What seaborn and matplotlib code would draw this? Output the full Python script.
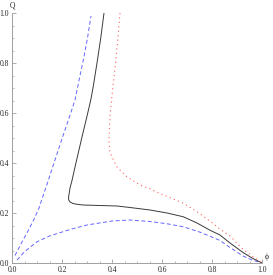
import pandas as pd
import numpy as np
import matplotlib
matplotlib.use("Agg")
import matplotlib.pyplot as plt
import seaborn as sns
from matplotlib.ticker import MultipleLocator

# curve values (phi, Q)
blue_up_x = [0.012, 0.04, 0.064, 0.088, 0.108, 0.14, 0.168, 0.201, 0.235, 0.252, 0.27, 0.287, 0.302, 0.316]
blue_up_y = [0.03, 0.084, 0.128, 0.175, 0.22, 0.315, 0.4, 0.5, 0.6, 0.652, 0.74, 0.82, 0.9, 0.988]

blue_lo_x = [0.02, 0.05, 0.1, 0.15, 0.239, 0.3, 0.4, 0.472, 0.552, 0.62, 0.685, 0.75, 0.792,
             0.832, 0.872, 0.924, 0.96, 1.0]
blue_lo_y = [0.012, 0.045, 0.085, 0.108, 0.136, 0.152, 0.168, 0.172, 0.166, 0.157, 0.145, 0.124, 0.107,
             0.09, 0.062, 0.028, 0.012, 0.0]

black_x = [0.368, 0.355, 0.34, 0.324, 0.315, 0.303, 0.279, 0.252, 0.24, 0.232, 0.229, 0.226, 0.227,
           0.232, 0.244, 0.259, 0.284, 0.35, 0.42, 0.472, 0.552, 0.62, 0.685, 0.74, 0.792,
           0.832, 0.872, 0.924, 0.96, 1.0]
black_y = [1.0, 0.9, 0.8, 0.7, 0.652, 0.6, 0.5, 0.384, 0.33, 0.3, 0.28, 0.262, 0.252,
           0.244, 0.238, 0.235, 0.232, 0.23, 0.228, 0.222, 0.212, 0.2, 0.185, 0.16, 0.131,
           0.112, 0.08, 0.042, 0.02, 0.0]

red_x = [0.432, 0.424, 0.414, 0.403, 0.393, 0.389, 0.388, 0.391, 0.399, 0.419, 0.459, 0.512,
         0.552, 0.585, 0.685, 0.74, 0.792, 0.832, 0.872, 0.924, 0.96, 1.0]
red_y = [1.0, 0.9, 0.8, 0.7, 0.6, 0.53, 0.48, 0.45, 0.425, 0.385, 0.345, 0.312,
         0.297, 0.281, 0.239, 0.205, 0.168, 0.135, 0.108, 0.055, 0.028, 0.0]

sns.set_style("ticks")
plt.rcParams['font.family'] = ['Liberation Serif', 'DejaVu Serif']

fig = plt.figure(figsize=(2.73, 2.75), dpi=100)
ax = fig.add_axes([12/273, 12/275, 250/273, 250/275])

blue = "#6464ff"
lw = 0.7
sns.lineplot(x=blue_up_x, y=blue_up_y, sort=False, estimator=None, ax=ax,
             color=blue, lw=lw, linestyle=(0, (4, 2.6)))
sns.lineplot(x=blue_lo_x, y=blue_lo_y, sort=False, estimator=None, ax=ax,
             color=blue, lw=lw, linestyle=(0, (4, 2.6)))
sns.lineplot(x=black_x, y=black_y, sort=False, estimator=None, ax=ax,
             color="#3a3a3a", lw=lw)
sns.lineplot(x=red_x, y=red_y, sort=False, estimator=None, ax=ax,
             color="#ff6060", lw=lw + 0.1, linestyle=(0, (1, 3)))

ax.set_xlim(0, 1)
ax.set_ylim(0, 1)
for s in ["top", "right"]:
    ax.spines[s].set_visible(False)
for s in ["left", "bottom"]:
    ax.spines[s].set_color("#a0a0a0")
    ax.spines[s].set_linewidth(0.7)
ax.xaxis.set_major_locator(MultipleLocator(0.2))
ax.yaxis.set_major_locator(MultipleLocator(0.2))
ax.xaxis.set_minor_locator(MultipleLocator(0.05))
ax.yaxis.set_minor_locator(MultipleLocator(0.05))
ax.xaxis.set_major_formatter(lambda v, p: f"{v:.1f}")
ax.yaxis.set_major_formatter(lambda v, p: f"{v:.1f}")
ax.tick_params(which="major", direction="in", length=3, width=0.6, color="#a0a0a0",
               labelsize=5.5)
ax.tick_params(axis="x", which="major", pad=2.2)
ax.tick_params(axis="y", which="major", pad=2.0)
ax.tick_params(which="minor", direction="in", length=1.6, width=0.5, color="#a0a0a0")
ax.set_xlabel("")
ax.set_ylabel("")
ax.text(0.0, 1.015, "Q", transform=ax.transAxes, fontsize=5.5, ha="center", va="bottom")
ax.text(1.012, 0.008, "ϕ", transform=ax.transAxes, fontsize=5.5, ha="left", va="bottom")

fig.savefig("out.png", dpi=100)
